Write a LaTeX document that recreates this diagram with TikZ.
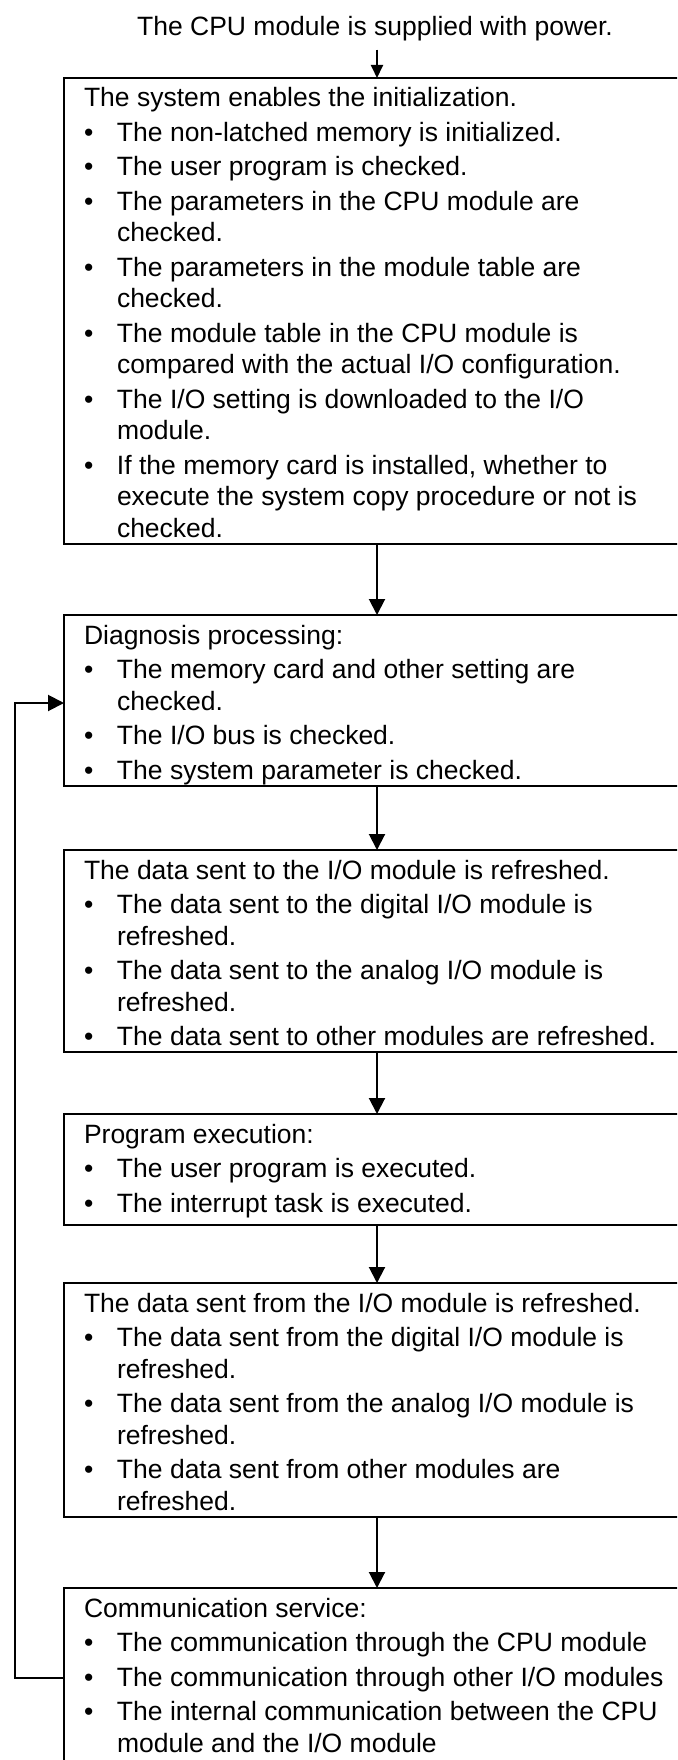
\documentclass[tikz,border=0pt]{standalone}
\usepackage{fontspec}
\setmainfont{Liberation Sans}
\usetikzlibrary{arrows.meta}
\newcommand{\bul}{\makebox[33pt][l]{•}}
\newcommand{\cont}{\hspace*{33pt}}
\newcommand{\boxtext}[1]{\parbox[t]{620pt}{\setlength{\baselineskip}{31.5pt}\setlength{\lineskiplimit}{-100pt}\setlength{\parskip}{0pt}\rule{0pt}{21pt}#1}}
\begin{document}
\begin{tikzpicture}[x=1pt,y=-1pt,
  font=\fontsize{26.5pt}{31.5pt}\selectfont,
  stepbox/.style={draw, line width=2pt, minimum width=636pt, anchor=north west, inner sep=0pt, outer sep=0pt},
  txt/.style={anchor=north west, inner sep=0pt, outer sep=0pt, align=left},
  arr/.style={line width=2pt, -{Triangle[width=16pt,length=16pt]}},
  arrsmall/.style={line width=2pt, -{Triangle[width=12pt,length=13pt]}}]
\useasboundingbox (0,0) rectangle (677,1760);
\fill[white] (0,0) rectangle (677,1760);
\clip (0,0) rectangle (677,1760);

\coordinate (ax) at (377,0);
\coordinate (lx) at (15,0);

\node[anchor=base, inner sep=0pt] (title) at (375,36) {The CPU module is supplied with power.};

\node[stepbox, minimum height=466pt] (b1) at (64,78) {};
\node[stepbox, minimum height=171pt] (b2) at (64,615) {};
\node[stepbox, minimum height=202pt] (b3) at (64,850) {};
\node[stepbox, minimum height=111pt] (b4) at (64,1114) {};
\node[stepbox, minimum height=234pt] (b5) at (64,1283) {};
\node[stepbox, minimum height=177pt] (b6) at (64,1588) {};

\node[txt] (t1) at (84,86) {\boxtext{The system enables the initialization.\\[3pt]
\bul The non-latched memory is initialized.\\[3pt]
\bul The user program is checked.\\[3pt]
\bul The parameters in the CPU module are\\
\cont checked.\\[3pt]
\bul The parameters in the module table are\\
\cont checked.\\[3pt]
\bul The module table in the CPU module is\\
\cont compared with the actual I/O configuration.\\[3pt]
\bul The I/O setting is downloaded to the I/O\\
\cont module.\\[3pt]
\bul If the memory card is installed, whether to\\
\cont execute the system copy procedure or not is\\
\cont checked.}};

\node[txt] (t2) at (84,623) {\boxtext{Diagnosis processing:\\[3pt]
\bul The memory card and other setting are\\
\cont checked.\\[3pt]
\bul The I/O bus is checked.\\[3pt]
\bul The system parameter is checked.}};

\node[txt] (t3) at (84,858) {\boxtext{The data sent to the I/O module is refreshed.\\[3pt]
\bul The data sent to the digital I/O module is\\
\cont refreshed.\\[3pt]
\bul The data sent to the analog I/O module is\\
\cont refreshed.\\[3pt]
\bul The data sent to other modules are refreshed.}};

\node[txt] (t4) at (84,1122) {\boxtext{Program execution:\\[3pt]
\bul The user program is executed.\\[3pt]
\bul The interrupt task is executed.}};

\node[txt] (t5) at (84,1291) {\boxtext{The data sent from the I/O module is refreshed.\\[3pt]
\bul The data sent from the digital I/O module is\\
\cont refreshed.\\[3pt]
\bul The data sent from the analog I/O module is\\
\cont refreshed.\\[3pt]
\bul The data sent from other modules are\\
\cont refreshed.}};

\node[txt] (t6) at (84,1596) {\boxtext{Communication service:\\[3pt]
\bul The communication through the CPU module\\[3pt]
\bul The communication through other I/O modules\\[3pt]
\bul The internal communication between the CPU\\
\cont module and the I/O module}};

\draw[arrsmall] ([yshift=-8pt]title.south -| ax) -- (b1.north -| ax);
\draw[arr] (b1.south -| ax) -- (b2.north -| ax);
\draw[arr] (b2.south -| ax) -- (b3.north -| ax);
\draw[arr] (b3.south -| ax) -- (b4.north -| ax);
\draw[arr] (b4.south -| ax) -- (b5.north -| ax);
\draw[arr] (b5.south -| ax) -- (b6.north -| ax);

\coordinate (la) at (64,703);
\coordinate (lb) at (64,1678);
\draw[arr] (lb) -- (lb -| lx) -- (la -| lx) -- (la);
\end{tikzpicture}
\end{document}
